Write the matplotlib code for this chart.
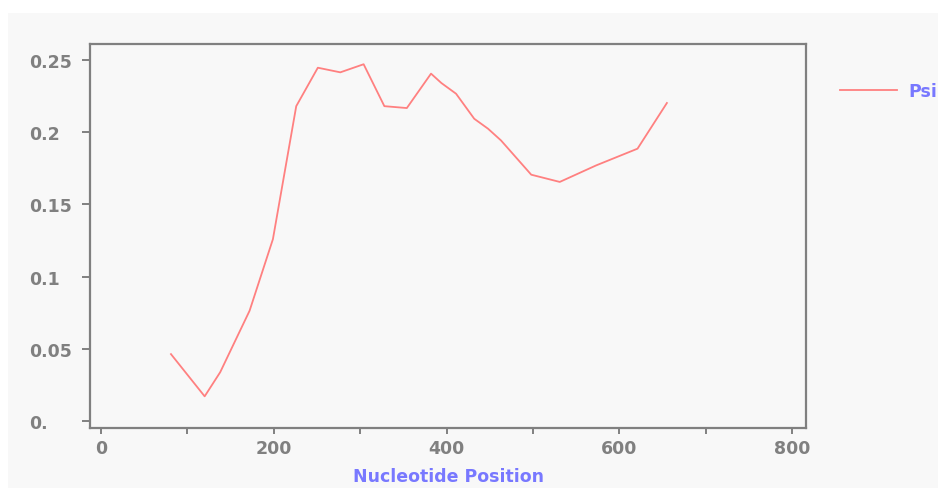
import matplotlib
matplotlib.use("Agg")
import matplotlib.pyplot as plt
from matplotlib.patches import Rectangle

# Psi along nucleotide position
position = [81, 120, 138, 172, 199, 226, 251, 277, 304, 328, 354,
            382, 394, 411, 432, 448, 463, 498, 531, 573, 621, 655]
psi = [0.0465, 0.0173, 0.034, 0.0765, 0.126, 0.218, 0.2446, 0.2414,
       0.247, 0.218, 0.2167, 0.2405, 0.234, 0.2266, 0.2093, 0.2024, 0.1943,
       0.1706, 0.1656, 0.177, 0.1886, 0.2202]

x_ticks = [0, 200, 400, 600, 800]
y_ticks = [0, 0.05, 0.1, 0.15, 0.2, 0.25]
y_labels = ["0.", "0.05", "0.1", "0.15", "0.2", "0.25"]

bg = "#f8f8f8"
grey = "#808080"
blue = "#7878ff"
red = "#ff8080"

W, H = 938, 489
fig = plt.figure(figsize=(W / 100, H / 100), dpi=100, facecolor="white")
fig.patches.append(Rectangle((8 / W, 0), 1, 1 - 14 / H, transform=fig.transFigure,
                             facecolor=bg, edgecolor="none", zorder=-1))

ax = fig.add_axes([90 / W, 1 - 429 / H, (806 - 90) / W, (429 - 45) / H])
ax.set_facecolor(bg)

ax.plot(position, psi, color=red, lw=1.3, label="Psi")

ax.set_xlim(-12.7, 816)
ax.set_ylim(-0.0046, 0.261)
ax.set_xticks(x_ticks)
ax.set_xticks(range(100, 800, 200), minor=True)
ax.set_yticks(y_ticks)
ax.set_yticklabels(y_labels)

for s in ax.spines.values():
    s.set_color(grey)
    s.set_linewidth(1.6)

ax.tick_params(axis="both", which="both", colors=grey, width=1.4)
ax.tick_params(axis="y", length=6, pad=38)
ax.tick_params(axis="x", which="both", length=4, pad=4)
for lab in ax.get_yticklabels():
    lab.set_ha("left")
for lab in ax.get_xticklabels() + ax.get_yticklabels():
    lab.set_fontsize(12.5)
    lab.set_fontweight("bold")
    lab.set_color(grey)

ax.set_xlabel("Nucleotide Position", color=blue, fontsize=12.5, fontweight="bold",
              labelpad=7)

# legend sits partly outside the canvas, as in the reference
leg = ax.legend(loc="upper left", bbox_to_anchor=(1.0475, 0.90), frameon=False,
                handlelength=3.3, handletextpad=0.65, borderpad=0, borderaxespad=0,
                prop={"size": 12.5, "weight": "bold"})
for t in leg.get_texts():
    t.set_color(blue)

fig.savefig("out.png", dpi=100, facecolor="white")
